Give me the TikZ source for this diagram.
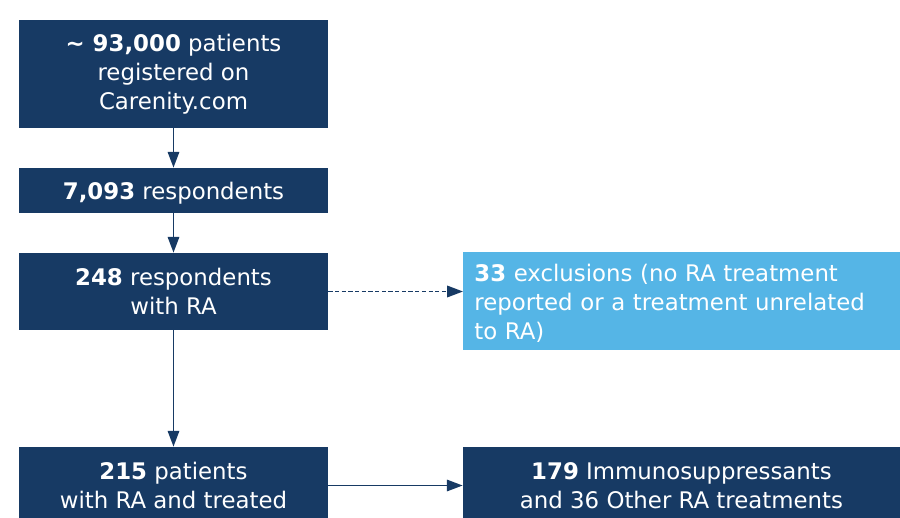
\documentclass[tikz,border=0pt]{standalone}
\usepackage{fontspec}
\setmainfont{DejaVu Sans}
\usepackage{tikz}
\usetikzlibrary{positioning, arrows.meta, calc}
\definecolor{navy}{HTML}{173A64}
\definecolor{skyblue}{HTML}{55B5E6}
\tikzset{
	darkbox/.style={fill=navy, text=white, align=center, inner sep=0pt,
		font=\fontsize{13}{16.4}\selectfont,
		execute at begin node={\rule{0pt}{12.4pt}}}
}
\tikzset{
	flowarrow/.style={draw=navy, line width=1.1pt, -{Triangle[length=9pt, width=6.5pt]}}
}
\newcommand{\num}[1]{\textbf{#1}}

\begin{document}
\begin{tikzpicture}
      \useasboundingbox (0,0) rectangle (18,-10.36);
      \node[darkbox, minimum width=6.18cm, minimum height=2.16cm] (reg) at (3.47,-1.48)
        {\num{\textasciitilde{} 93,000} patients\\registered on\\Carenity.com};
      \node[darkbox, minimum width=6.18cm, minimum height=0.9cm] (resp) at (3.47,-3.81)
        {\num{7,093} respondents};
      \node[darkbox, minimum width=6.18cm, minimum height=1.54cm] (ra) at (3.47,-5.83)
        {\num{248} respondents\\with RA};
      % exclusions, left aligned text
      \node[darkbox, fill=skyblue, align=left, anchor=west, text width=8.52cm,
        inner xsep=0.22cm, minimum height=1.96cm] (excl) at (9.26,-6.02)
        {\num{33} exclusions (no RA treatment\\reported or a treatment unrelated\\to RA)};
      \node[darkbox, minimum width=6.18cm, minimum height=1.54cm] (treated) at (3.47,-9.71)
        {\num{215} patients\\with RA and treated};
      \node[darkbox, minimum width=8.74cm, minimum height=1.54cm] (drugs) at (13.63,-9.71)
        {\num{179} Immunosuppressants\\and 36 Other RA treatments};
      \draw[flowarrow] (reg) -- (resp);
      \draw[flowarrow] (resp) -- (ra);
      \draw[flowarrow] (ra) -- (treated);
      \draw[flowarrow, dash pattern=on 2.4pt off 1.4pt] (ra.east) -- (ra.east -| excl.west);
      \draw[flowarrow] (treated.east) -- (drugs.west);
    \end{tikzpicture}
\end{document}
